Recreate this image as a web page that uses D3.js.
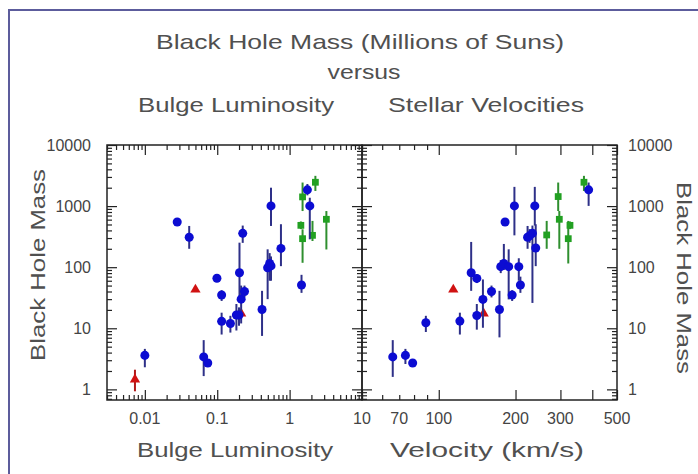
<!DOCTYPE html>
<html>
<head>
<meta charset="utf-8">
<script src="https://cdn.jsdelivr.net/npm/d3@7"></script>
<style>
  body { margin: 0; background: #fff; }
  svg { display: block; }
  text { font-family: "Liberation Sans", Arial, sans-serif; }
</style>
</head>
<body>
<svg id="chart" width="698" height="474"></svg>
<script>
// bulge luminosity panel: [luminosity, mass, massLow, massHigh]
const lumBlue = [
  [0.028, 550, 480, 620],
  [0.041, 309, 200, 473],
  [0.010, 3.6, 2.3, 4.6],
  [0.065, 3.4, 1.65, 6.4],
  [0.074, 2.7, 2.4, 3.1],
  [0.099, 66, 58, 75],
  [0.115, 35, 28, 42],
  [0.115, 13, 7.9, 18],
  [0.152, 12, 8.5, 16],
  [0.184, 16.5, 9.2, 25],
  [0.200, 16.5, 11, 22],
  [0.203, 81, 30, 252],
  [0.225, 358, 250, 480],
  [0.214, 30, 12, 50],
  [0.238, 40, 32, 50],
  [0.416, 20.3, 7.5, 41],
  [0.497, 98, 30, 196],
  [0.53, 115, 60, 170],
  [0.553, 105, 60, 150],
  [0.553, 1007, 473, 2000],
  [0.759, 203, 104, 505],
  [1.46, 51, 38, 75],
  [1.76, 1844, 1500, 2300],
  [1.90, 1007, 286, 1370]
];
const lumGreen = [
  [1.51, 1415, 830, 2430],
  [2.27, 2455, 1770, 3127],
  [1.43, 484, 420, 560],
  [1.51, 293, 118, 417],
  [2.07, 332, 268, 572],
  [3.22, 608, 195, 830]
];
const lumRed = [
  [0.0073, 1.45, 0.93, 2.1],
  [0.050, 43, 43, 43],
  [0.214, 17.5, 17.5, 17.5]
];

// stellar velocity panel: [velocity, mass, massLow, massHigh]
const velBlue = [
  [66, 3.4, 1.6, 6.4],
  [74, 3.6, 2.6, 4.6],
  [79, 2.7, 2.5, 3.0],
  [89, 12.3, 8.7, 16],
  [121, 13.1, 7.9, 18],
  [134, 81, 41, 259],
  [141, 65.5, 55, 77],
  [141, 16.2, 9.5, 25],
  [149, 29.7, 10.2, 63],
  [161, 40, 32, 50],
  [173, 20.3, 7.1, 41],
  [175, 102, 80, 130],
  [180, 115, 90, 240],
  [182, 550, 480, 620],
  [188, 102, 29.7, 196],
  [194, 35, 28, 42],
  [198, 1007, 332, 2064],
  [206, 102, 60, 140],
  [209, 51, 38, 70],
  [223, 309, 200, 473],
  [227, 326, 250, 420],
  [233, 358, 26, 480],
  [238, 1007, 480, 2064],
  [240, 206, 104, 505],
  [387, 1844, 1007, 2430]
];
const velGreen = [
  [265, 337, 200, 572],
  [294, 1432, 830, 2430],
  [297, 608, 200, 830],
  [322, 293, 115, 572],
  [327, 484, 420, 560],
  [371, 2455, 1770, 3127]
];
const velRed = [
  [114, 43, 43, 43],
  [150, 17.5, 17.5, 17.5]
];

const massTicks = [1, 10, 100, 1000, 10000];
const lumTicks = [0.01, 0.1, 1, 10];
const velTicks = [70, 100, 200, 300, 500];
const velMajor = [100, 200, 300, 400, 500];

const svg = d3.select("#chart");
const plotTop = 145, plotBottom = 400;

// outer frame
svg.append("path")
  .attr("d", "M9,474V10H698")
  .attr("fill", "none")
  .attr("stroke", "#5c5c9c")
  .attr("stroke-width", 2);

const y = d3.scaleLog().domain([0.67, 10000]).range([plotBottom, plotTop]);
const xL = d3.scaleLog().domain([0.003, 10]).range([107, 362]);
const xR = d3.scaleLog().domain([50, 500]).range([362, 617]);

const isDecade = v => Math.abs(Math.log10(v) - Math.round(Math.log10(v))) < 1e-9;
const fmt = v => String(+v.toPrecision(3));

function panel(x, xMajor, xMinor, xLabels, leftLabels, rightLabels) {
  const g = svg.append("g");
  const [x0, x1] = x.range();
  const yAll = y.ticks(), yMajor = yAll.filter(isDecade), yMinor = yAll.filter(v => !isDecade(v));

  function ticks(gen, scale, tr, vals, len) {
    const a = g.append("g").attr("transform", tr)
      .call(gen(scale).tickValues(vals).tickSize(-len).tickSizeOuter(0).tickFormat(""));
    a.select(".domain").remove();
    a.selectAll(".tick line").attr("stroke", "#222").attr("stroke-width", 1.2);
  }
  // bottom & top
  ticks(d3.axisBottom, x, `translate(0,${plotBottom})`, xMinor, 5);
  ticks(d3.axisBottom, x, `translate(0,${plotBottom})`, xMajor, 10);
  ticks(d3.axisTop, x, `translate(0,${plotTop})`, xMinor, 5);
  ticks(d3.axisTop, x, `translate(0,${plotTop})`, xMajor, 10);
  // left & right
  ticks(d3.axisLeft, y, `translate(${x0},0)`, yMinor, 5);
  ticks(d3.axisLeft, y, `translate(${x0},0)`, yMajor, 10);
  ticks(d3.axisRight, y, `translate(${x1},0)`, yMinor, 5);
  ticks(d3.axisRight, y, `translate(${x1},0)`, yMajor, 10);

  const lab = g.append("g").attr("fill", "#444").style("font-size", "16px");
  lab.selectAll(".xl").data(xLabels).join("text")
    .attr("x", d => x(d)).attr("y", plotBottom + 24)
    .attr("text-anchor", "middle").text(fmt);
  lab.selectAll(".yl").data(leftLabels || []).join("text")
    .attr("x", x0 - 16).attr("y", d => y(d)).attr("dy", "0.35em")
    .attr("text-anchor", "end").text(fmt);
  lab.selectAll(".yr").data(rightLabels || []).join("text")
    .attr("x", x1 + 11).attr("y", d => y(d)).attr("dy", "0.35em")
    .attr("text-anchor", "start").text(fmt);

  g.append("rect")
    .attr("x", x0).attr("y", plotTop)
    .attr("width", x1 - x0).attr("height", plotBottom - plotTop)
    .attr("fill", "none").attr("stroke", "#222").attr("stroke-width", 1.5);
  return g;
}

function points(g, x, data, shape, fill, barColor) {
  g.append("g").selectAll("line")
    .data(data.filter(d => d[3] > d[2]))
    .join("line")
    .attr("x1", d => x(d[0])).attr("x2", d => x(d[0]))
    .attr("y1", d => y(d[2])).attr("y2", d => y(d[3]))
    .attr("stroke", barColor).attr("stroke-width", 2);
  g.append("g").selectAll("path")
    .data(data)
    .join("path")
    .attr("transform", d => `translate(${x(d[0])},${y(d[1])})`)
    .attr("d", d3.symbol().type(shape).size(shape === d3.symbolTriangle ? 46 : shape === d3.symbolSquare ? 46 : 64))
    .attr("fill", fill);
}

const lumAll = xL.ticks();
const gL = panel(xL, lumAll.filter(isDecade), lumAll.filter(v => !isDecade(v)), lumTicks, massTicks, null);
const velAll = xR.ticks();
const gR = panel(xR, velMajor, velAll.filter(v => !velMajor.some(m => Math.abs(m - v) < 1e-6)), velTicks, null, massTicks);

[[gL, xL, lumRed, lumGreen, lumBlue], [gR, xR, velRed, velGreen, velBlue]].forEach(([g, x, r, gr, b]) => {
  points(g, x, r, d3.symbolTriangle, "#d01212", "#b01818");
  points(g, x, gr, d3.symbolSquare, "#22a022", "#2f8f2f");
  points(g, x, b, d3.symbolCircle, "#0c0cd2", "#2e3088");
});

// titles
const titles = [
  ["Black Hole Mass (Millions of Suns)", 360, 49, 408],
  ["versus", 364, 79, 73],
  ["Bulge Luminosity", 236, 112, 196],
  ["Stellar Velocities", 486, 112, 196],
  ["Bulge Luminosity", 235, 457, 196],
  ["Velocity  (km/s)", 487, 457, 194]
];
titles.forEach(([t, cx, cy, w]) => {
  svg.append("text").attr("x", cx - w / 2).attr("y", cy)
    .attr("textLength", w).attr("lengthAdjust", "spacingAndGlyphs")
    .attr("fill", "#505050").style("font-size", "21px").text(t);
});
svg.append("text")
  .attr("transform", "translate(45,265) rotate(-90)")
  .attr("x", -96).attr("textLength", 192).attr("lengthAdjust", "spacingAndGlyphs")
  .attr("fill", "#505050").style("font-size", "21px").text("Black Hole Mass");
svg.append("text")
  .attr("transform", "translate(677,278) rotate(90)")
  .attr("x", -96).attr("textLength", 192).attr("lengthAdjust", "spacingAndGlyphs")
  .attr("fill", "#505050").style("font-size", "21px").text("Black Hole Mass");
</script>
</body>
</html>
